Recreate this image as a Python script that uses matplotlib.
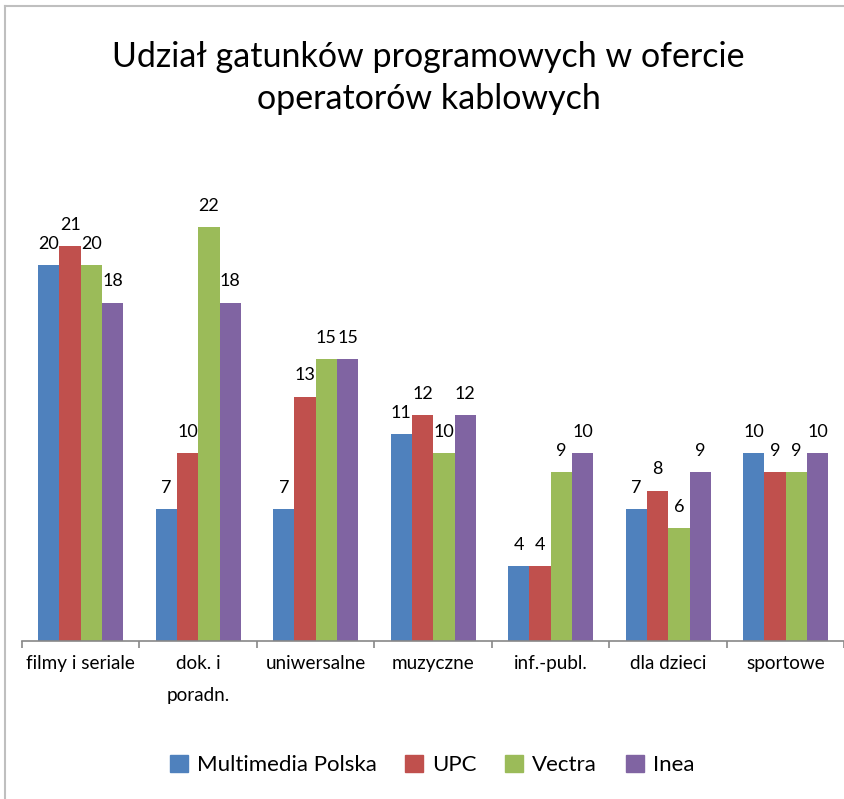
import matplotlib
matplotlib.use("Agg")
import matplotlib.pyplot as plt
import numpy as np
from matplotlib.lines import Line2D

categories = ["filmy i seriale", "dok. i\nporadn.", "uniwersalne", "muzyczne",
              "inf.-publ.", "dla dzieci", "sportowe"]
series_names = ["Multimedia Polska", "UPC", "Vectra", "Inea"]
multimedia = [20, 7, 7, 11, 4, 7, 10]
upc = [21, 10, 13, 12, 4, 8, 9]
vectra = [20, 22, 15, 10, 9, 6, 9]
inea = [18, 18, 15, 12, 10, 9, 10]
title = "Udział gatunków programowych w ofercie\noperatorów kablowych"

colors = ["#4F81BD", "#C0504D", "#9BBB59", "#8064A2"]
plt.rcParams['font.family'] = ['Lato', 'DejaVu Sans']

W, H = 845, 799
fig = plt.figure(figsize=(W / 100, H / 100), dpi=100)
ax = fig.add_axes([22 / W, (H - 641) / H, (844.5 - 22) / W, 470 / H])

x = np.arange(len(categories))
bw = 0.181
data = [multimedia, upc, vectra, inea]
for i, (vals, c) in enumerate(zip(data, colors)):
    pos = x + (i - 1.5) * bw
    ax.bar(pos, vals, width=bw, color=c, label=series_names[i], zorder=2)
    for p, v in zip(pos, vals):
        ax.annotate(str(v), (p, v), xytext=(0, 9.5), textcoords="offset points",
                    ha="center", va="bottom", fontsize=13, color="black")

ax.set_xlim(-0.5, len(categories) - 0.5)
ax.set_ylim(0, 25)
ax.set_yticks([])
for s in ["top", "right", "left"]:
    ax.spines[s].set_visible(False)
ax.spines["bottom"].set_color("#878787")
ax.spines["bottom"].set_linewidth(1.2)
ax.set_xticks(x)
ax.set_xticklabels(categories, fontsize=13.6, linespacing=2.1)
ax.tick_params(axis="x", which="major", length=0, pad=10)
ax.set_xticks(np.arange(-0.5, len(categories) + 0.5, 1), minor=True)
ax.tick_params(axis="x", which="minor", length=5, width=1.2, color="#878787", direction="out")
for lbl in ax.get_xticklabels():
    lbl.set_verticalalignment("top")

fig.text(0.5 * (112 + 745) / W, 1 - 78 / H, title, ha="center", va="center",
         fontsize=24.5, linespacing=1.35)

handles = [plt.Rectangle((0, 0), 1, 1, color=c) for c in colors]
fig.legend(handles, series_names, loc="center", bbox_to_anchor=(432 / W, 1 - 765 / H),
           ncol=4, frameon=False, fontsize=16, handlelength=0.8, handleheight=0.8,
           handletextpad=0.4, columnspacing=1.3)

# chart border (top and left visible)
fig.add_artist(Line2D([5 / W, 5 / W], [0, 1 - 6 / H], color="#BFBFBF", lw=1.5,
                      transform=fig.transFigure))
fig.add_artist(Line2D([5 / W, 1], [1 - 6 / H, 1 - 6 / H], color="#BFBFBF", lw=1.5,
                      transform=fig.transFigure))

fig.savefig("out.png", dpi=100)
